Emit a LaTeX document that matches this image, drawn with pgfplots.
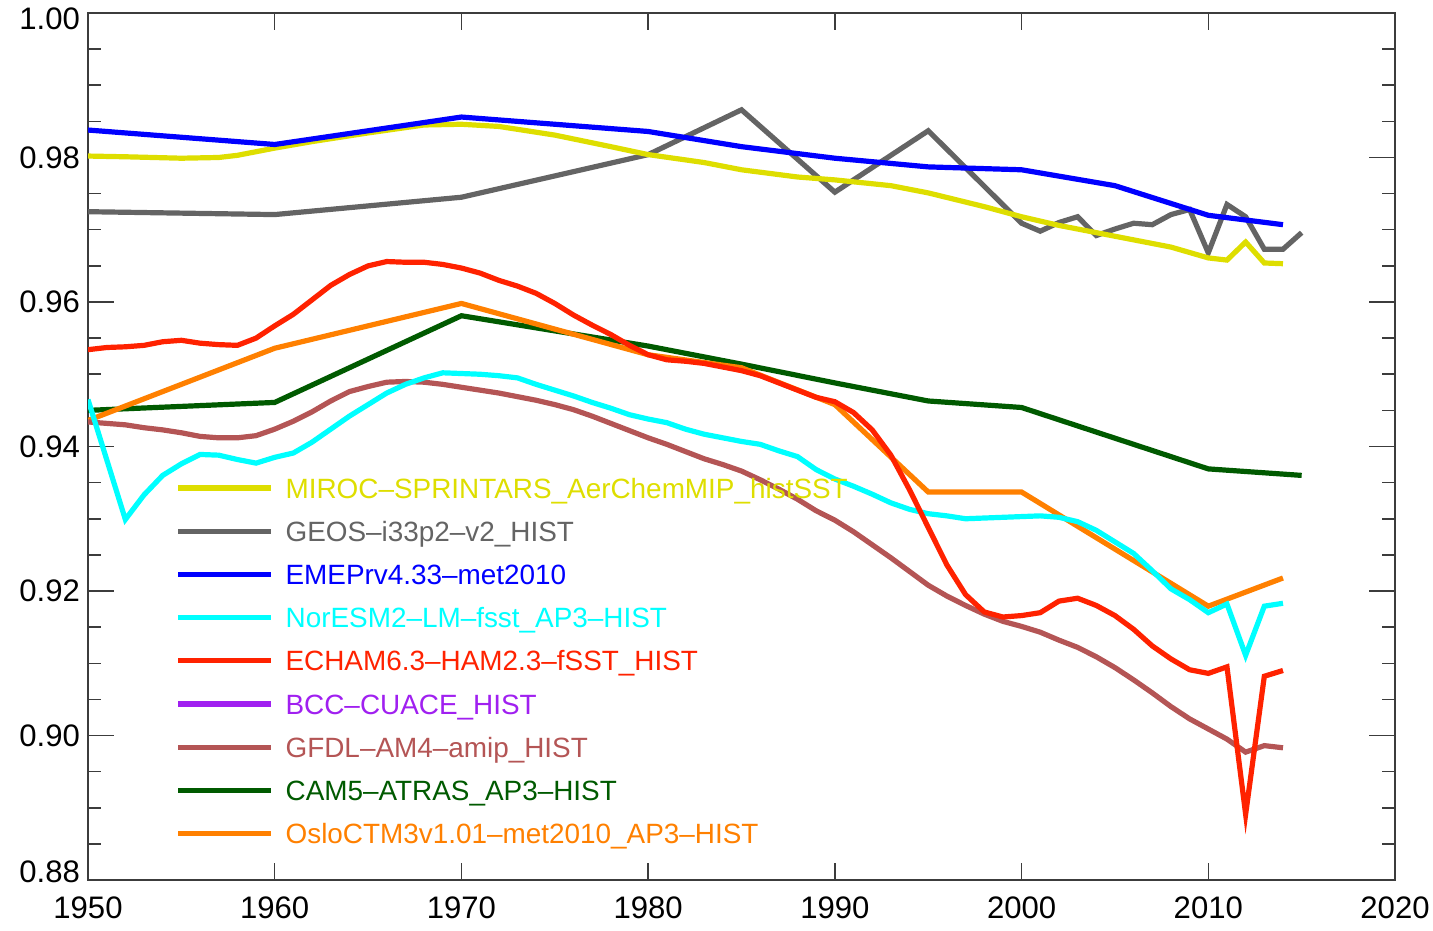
\documentclass[border=0pt]{standalone}
\usepackage{fontspec}
\setmainfont{Liberation Sans}
\usepackage{pgfplots}
\pgfplotsset{compat=1.18}
\definecolor{cYellow}{RGB}{222,222,0}
\definecolor{cGray}{RGB}{100,100,100}
\definecolor{cBlue}{RGB}{0,0,255}
\definecolor{cCyan}{RGB}{0,255,255}
\definecolor{cRed}{RGB}{255,34,0}
\definecolor{cPurple}{RGB}{160,32,240}
\definecolor{cBrown}{RGB}{180,85,85}
\definecolor{cGreen}{RGB}{0,90,0}
\definecolor{cOrange}{RGB}{255,128,0}
\definecolor{axgray}{RGB}{60,60,60}
\begin{document}
\begin{tikzpicture}
\begin{axis}[
  scale only axis, width=653.5bp, height=433.5bp,
  xmin=1950, xmax=2020, ymin=0.88, ymax=1.00,
  xtick={1950,1960,1970,1980,1990,2000,2010,2020},
  ytick={0.88,0.90,0.92,0.94,0.96,0.98,1.00},
  minor y tick num=3,
  tick align=inside,
  axis line style={line width=0.75bp, color=axgray},
  xtick style={/pgfplots/major tick length=8.5bp, line width=0.75bp, color=axgray},
  ytick style={/pgfplots/major tick length=13bp, /pgfplots/minor tick length=6.5bp, line width=0.75bp, color=axgray},
  /pgf/number format/assume math mode=true,
  ticklabel style={font=\fontsize{15.6}{18}\selectfont, text=black},
  xticklabel style={/pgf/number format/1000 sep={}, yshift=-5bp},
  yticklabel style={xshift=-0.5bp, yshift={(\ticknum==0)*4.0-(\ticknum==6)*3.0},
    /pgf/number format/.cd, fixed, fixed zerofill, precision=2},
  legend cell align=left,
  legend image code/.code={\draw (0bp,0bp) -- (46.5bp,0bp);},
  legend style={draw=none, fill=none, inner sep=0pt, at={(axis cs:1954.66,0.9373)}, anchor=north west,
    row sep=0pt, column sep=6bp,
    nodes={inner sep=0pt, text height=15.8bp, text depth=5.8bp, font=\fontsize{14}{16}\selectfont}},
]
\addlegendimage{color=cYellow, line width=2.6bp}
\addlegendentry{\textcolor{cYellow}{MIROC--SPRINTARS\_AerChemMIP\_histSST}}
\addlegendimage{color=cGray, line width=2.6bp}
\addlegendentry{\textcolor{cGray}{GEOS--i33p2--v2\_HIST}}
\addlegendimage{color=cBlue, line width=2.6bp}
\addlegendentry{\textcolor{cBlue}{EMEPrv4.33--met2010}}
\addlegendimage{color=cCyan, line width=2.6bp}
\addlegendentry{\textcolor{cCyan}{NorESM2--LM--fsst\_AP3--HIST}}
\addlegendimage{color=cRed, line width=2.6bp}
\addlegendentry{\textcolor{cRed}{ECHAM6.3--HAM2.3--fSST\_HIST}}
\addlegendimage{color=cPurple, line width=2.6bp}
\addlegendentry{\textcolor{cPurple}{BCC--CUACE\_HIST}}
\addlegendimage{color=cBrown, line width=2.6bp}
\addlegendentry{\textcolor{cBrown}{GFDL--AM4--amip\_HIST}}
\addlegendimage{color=cGreen, line width=2.6bp}
\addlegendentry{\textcolor{cGreen}{CAM5--ATRAS\_AP3--HIST}}
\addlegendimage{color=cOrange, line width=2.6bp}
\addlegendentry{\textcolor{cOrange}{OsloCTM3v1.01--met2010\_AP3--HIST}}

% CAM5-ATRAS
\addplot[forget plot, color=cGreen, line width=2.6bp] coordinates {
(1950,0.9450)(1960,0.9461)(1970,0.9581)(1980,0.9539)(1985,0.9514)(1990,0.9488)(1995,0.9463)(2000,0.9454)(2010,0.9369)(2015,0.9360)};
% OsloCTM3
\addplot[forget plot, color=cOrange, line width=2.6bp] coordinates {
(1950,0.9436)(1960,0.9536)(1970,0.9598)(1980,0.9527)(1985,0.9509)(1990,0.9458)(1995,0.9337)(2000,0.9337)(2010,0.9179)(2014,0.9218)};
% GFDL
\addplot[forget plot, color=cBrown, line width=2.6bp] coordinates {
(1950,0.9434)(1951,0.9432)(1952,0.9430)(1953,0.9426)(1954,0.9423)(1955,0.9419)(1956,0.9414)(1957,0.9412)(1958,0.9412)(1959,0.9415)
(1960,0.9424)(1961,0.9435)(1962,0.9448)(1963,0.9463)(1964,0.9476)(1965,0.9483)(1966,0.9489)(1967,0.9490)(1968,0.9489)(1969,0.9486)
(1970,0.9482)(1971,0.9478)(1972,0.9474)(1973,0.9469)(1974,0.9464)(1975,0.9458)(1976,0.9451)(1977,0.9442)(1978,0.9432)(1979,0.9422)
(1980,0.9412)(1981,0.9403)(1982,0.9393)(1983,0.9383)(1984,0.9375)(1985,0.9366)(1986,0.9354)(1987,0.9341)(1988,0.9327)(1989,0.9311)
(1990,0.9298)(1991,0.9282)(1992,0.9264)(1993,0.9246)(1994,0.9227)(1995,0.9208)(1996,0.9193)(1997,0.9180)(1998,0.9168)(1999,0.9158)
(2000,0.9151)(2001,0.9143)(2002,0.9132)(2003,0.9122)(2004,0.9109)(2005,0.9094)(2006,0.9077)(2007,0.9059)(2008,0.9040)(2009,0.9023)
(2010,0.9009)(2011,0.8995)(2012,0.8977)(2013,0.8986)(2014,0.8983)};
% GEOS
\addplot[forget plot, color=cGray, line width=2.6bp] coordinates {
(1950,0.9725)(1960,0.9721)(1970,0.9745)(1980,0.9804)(1985,0.9866)(1990,0.9752)(1995,0.9837)(2000,0.9709)(2001,0.9698)(2002,0.9710)
(2003,0.9718)(2004,0.9692)(2005,0.9701)(2006,0.9709)(2007,0.9707)(2008,0.9721)(2009,0.9728)(2010,0.9668)(2011,0.9735)(2012,0.9718)
(2013,0.9673)(2014,0.9673)(2015,0.9696)};
% MIROC
\addplot[forget plot, color=cYellow, line width=2.6bp] coordinates {
(1950,0.9802)(1952,0.9801)(1955,0.9799)(1957,0.9800)(1958,0.9803)(1960,0.9813)(1962,0.9822)(1965,0.9834)(1968,0.9845)(1970,0.9846)
(1972,0.9843)(1975,0.9831)(1978,0.9815)(1980,0.9804)(1983,0.9793)(1985,0.9783)(1988,0.9773)(1990,0.9769)(1993,0.9761)(1995,0.9751)
(1998,0.9732)(2000,0.9718)(2002,0.9706)(2005,0.9691)(2008,0.9676)(2010,0.9661)(2011,0.9658)(2012,0.9683)(2013,0.9654)(2014,0.9653)};
% EMEP
\addplot[forget plot, color=cBlue, line width=2.6bp] coordinates {
(1950,0.9838)(1960,0.9818)(1970,0.9856)(1980,0.9836)(1985,0.9815)(1990,0.9799)(1995,0.9787)(2000,0.9783)(2005,0.9761)(2010,0.9720)(2014,0.9707)};
% NorESM2
\addplot[forget plot, color=cCyan, line width=2.6bp] coordinates {
(1950,0.9465)(1951,0.9382)(1952,0.9299)(1953,0.9333)(1954,0.9360)(1955,0.9376)(1956,0.9389)(1957,0.9388)(1958,0.9382)(1959,0.9377)
(1960,0.9385)(1961,0.9391)(1962,0.9406)(1963,0.9424)(1964,0.9442)(1965,0.9458)(1966,0.9474)(1967,0.9486)(1968,0.9495)(1969,0.9502)
(1970,0.9501)(1971,0.9500)(1972,0.9498)(1973,0.9495)(1974,0.9486)(1975,0.9478)(1976,0.9470)(1977,0.9461)(1978,0.9453)(1979,0.9444)
(1980,0.9438)(1981,0.9433)(1982,0.9424)(1983,0.9417)(1984,0.9412)(1985,0.9407)(1986,0.9403)(1987,0.9394)(1988,0.9386)(1989,0.9368)
(1990,0.9355)(1991,0.9345)(1992,0.9334)(1993,0.9322)(1994,0.9313)(1995,0.9307)(1996,0.9304)(1997,0.9300)(1998,0.9301)(1999,0.9302)
(2000,0.9303)(2001,0.9304)(2002,0.9302)(2003,0.9296)(2004,0.9284)(2005,0.9268)(2006,0.9252)(2007,0.9228)(2008,0.9203)(2009,0.9188)
(2010,0.9170)(2011,0.9182)(2012,0.9111)(2013,0.9179)(2014,0.9183)};
% ECHAM
\addplot[forget plot, color=cRed, line width=2.6bp] coordinates {
(1950,0.9534)(1951,0.9537)(1952,0.9538)(1953,0.9540)(1954,0.9545)(1955,0.9547)(1956,0.9543)(1957,0.9541)(1958,0.9540)(1959,0.9550)
(1960,0.9567)(1961,0.9583)(1962,0.9603)(1963,0.9623)(1964,0.9638)(1965,0.9650)(1966,0.9656)(1967,0.9655)(1968,0.9655)(1969,0.9652)
(1970,0.9647)(1971,0.9640)(1972,0.9630)(1973,0.9622)(1974,0.9612)(1975,0.9598)(1976,0.9582)(1977,0.9568)(1978,0.9555)(1979,0.9540)
(1980,0.9527)(1981,0.9520)(1982,0.9518)(1983,0.9515)(1984,0.9510)(1985,0.9505)(1986,0.9498)(1987,0.9488)(1988,0.9478)(1989,0.9468)
(1990,0.9462)(1991,0.9447)(1992,0.9423)(1993,0.9388)(1994,0.9340)(1995,0.9288)(1996,0.9236)(1997,0.9195)(1998,0.9171)(1999,0.9164)
(2000,0.9166)(2001,0.9170)(2002,0.9186)(2003,0.9190)(2004,0.9180)(2005,0.9166)(2006,0.9147)(2007,0.9124)(2008,0.9106)(2009,0.9091)
(2010,0.9086)(2011,0.9095)(2012,0.8891)(2013,0.9082)(2014,0.9090)};
\coordinate (ll) at (rel axis cs:0,0);
\coordinate (ur) at (rel axis cs:1,1);
\end{axis}
\pgfresetboundingbox
\path ([shift={(-44bp,-25bp)}]ll) rectangle ([shift={(19bp,6.5bp)}]ur);
\end{tikzpicture}
\end{document}
